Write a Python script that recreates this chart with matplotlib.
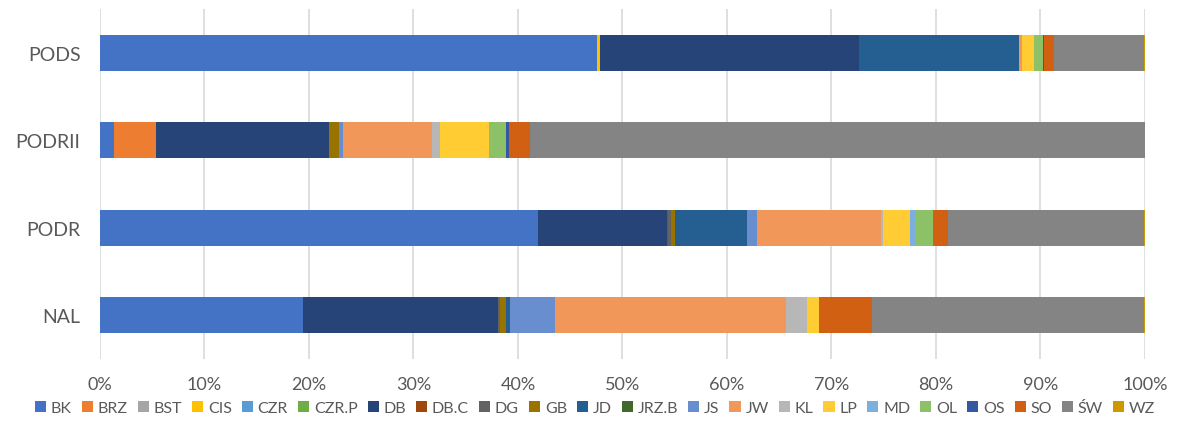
import numpy as np
import matplotlib.pyplot as plt
from matplotlib.ticker import PercentFormatter

plt.rcParams['font.family'] = ['Lato', 'DejaVu Sans']

# kategorie (od dołu do góry)
kategorie = ['NAL', 'PODR', 'PODRII', 'PODS']

serie = ['BK', 'BRZ', 'BST', 'CIS', 'CZR', 'CZR.P', 'DB', 'DB.C', 'DG', 'GB', 'JD',
         'JRZ.B', 'JS', 'JW', 'KL', 'LP', 'MD', 'OL', 'OS', 'SO', 'ŚW', 'WZ']

kolory = ['#4472C4', '#ED7D31', '#A5A5A5', '#FFC000', '#5B9BD5', '#70AD47', '#264478',
          '#9E480E', '#636363', '#997300', '#255E91', '#43682B', '#698ED0', '#F1975A',
          '#B7B7B7', '#FFCD33', '#7CAFDD', '#8CC168', '#335AA1', '#D26012', '#848484',
          '#CC9A00']

# udziały w % dla: NAL, PODR, PODRII, PODS
udzialy = {
    'BK':    [19.46, 41.95, 1.37, 47.59],
    'BRZ':   [0.0, 0.0, 3.99, 0.0],
    'BST':   [0.0, 0.0, 0.0, 0.0],
    'CIS':   [0.0, 0.0, 0.0, 0.30],
    'CZR':   [0.0, 0.0, 0.0, 0.0],
    'CZR.P': [0.0, 0.0, 0.0, 0.0],
    'DB':    [18.66, 12.28, 16.60, 24.77],
    'DB.C':  [0.0, 0.15, 0.0, 0.0],
    'DG':    [0.16, 0.26, 0.0, 0.0],
    'GB':    [0.57, 0.41, 0.96, 0.0],
    'JD':    [0.38, 6.89, 0.0, 15.31],
    'JRZ.B': [0.0, 0.0, 0.0, 0.0],
    'JS':    [4.34, 0.90, 0.35, 0.0],
    'JW':    [22.08, 11.90, 8.54, 0.30],
    'KL':    [2.04, 0.25, 0.70, 0.0],
    'LP':    [1.12, 2.52, 4.75, 1.15],
    'MD':    [0.0, 0.50, 0.0, 0.0],
    'OL':    [0.0, 1.72, 1.60, 0.83],
    'OS':    [0.0, 0.0, 0.25, 0.10],
    'SO':    [5.10, 1.44, 2.04, 0.92],
    'ŚW':    [26.00, 18.75, 58.85, 8.61],
    'WZ':    [0.10, 0.08, 0.0, 0.16],
}

fig = plt.figure(figsize=(11.9, 4.27), dpi=100)
ax = fig.add_axes([0.084, 0.157, 0.878, 0.820])

y = np.arange(len(kategorie))
lewo = np.zeros(len(kategorie))
for nazwa, kolor in zip(serie, kolory):
    wart = np.array(udzialy[nazwa])
    ax.barh(y, wart, left=lewo, height=0.41, color=kolor, label=nazwa, linewidth=0)
    lewo += wart

ax.set_xlim(0, 100)
ax.set_ylim(-0.5, 3.5)
ax.set_yticks(y)
ax.set_yticklabels(kategorie)
ax.set_xticks(np.arange(0, 101, 10))
ax.xaxis.set_major_formatter(PercentFormatter(decimals=0))
ax.tick_params(axis='both', length=0, labelsize=13, colors='#595959')
ax.tick_params(axis='y', labelsize=14, pad=14)
ax.tick_params(axis='x', pad=12)
for s in ax.spines.values():
    s.set_visible(False)
ax.grid(axis='x', color='#D9D9D9', linewidth=1.2)
ax.set_axisbelow(True)

fig.legend(loc='center', bbox_to_anchor=(0.5, 0.042), ncol=len(serie), frameon=False,
           fontsize=11.5, handlelength=0.7, handleheight=0.7, handletextpad=0.3,
           columnspacing=0.62, labelcolor='#595959')

fig.savefig('out.png', dpi=100)
